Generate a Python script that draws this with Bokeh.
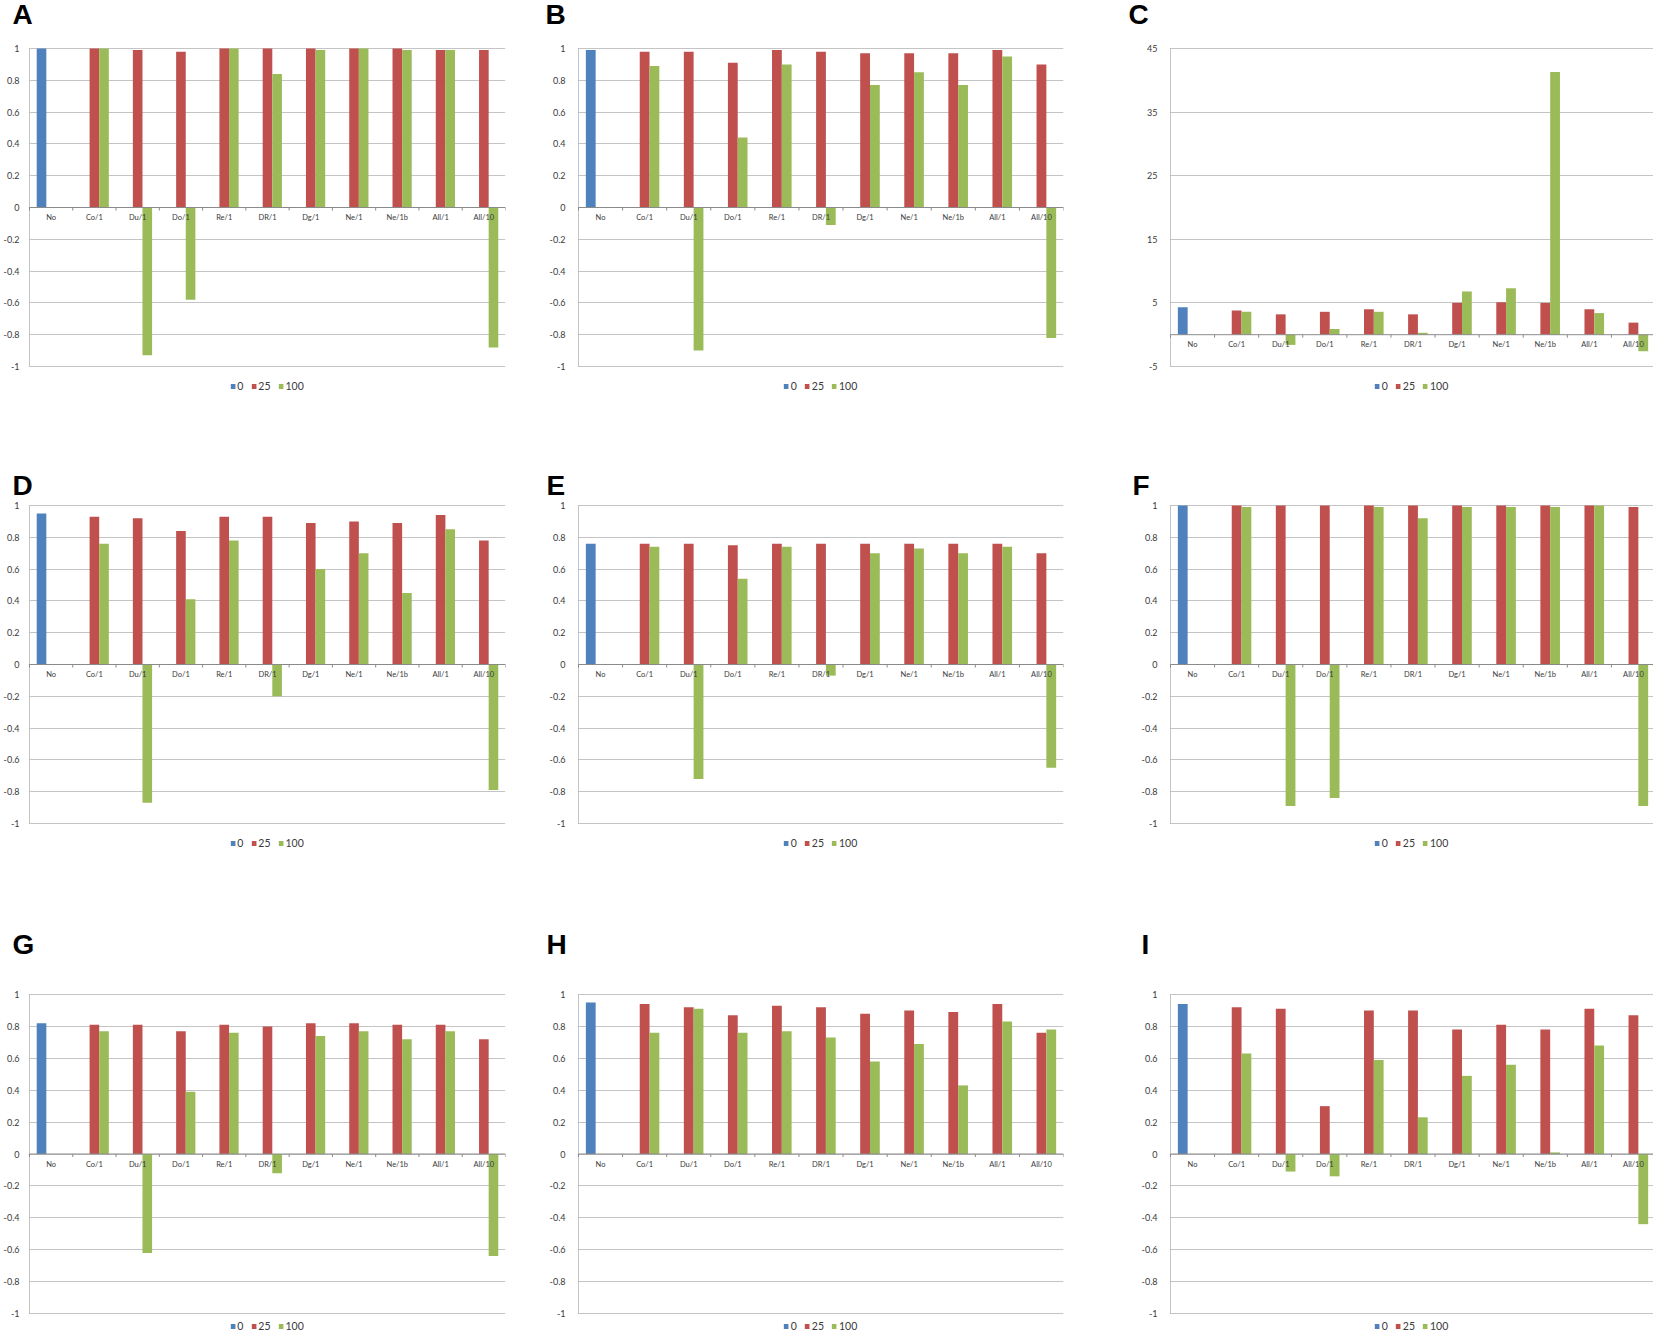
from bokeh.plotting import figure
from bokeh.layouts import column, row
from bokeh.models import Range1d, FixedTicker, Label, LabelSet, ColumnDataSource, Legend, LegendItem
from bokeh.core.properties import value
from bokeh.embed import file_html
from bokeh.resources import INLINE

# ---------------- data ----------------
categories = ["No", "Co/1", "Du/1", "Do/1", "Re/1", "DR/1", "Dg/1", "Ne/1", "Ne/1b", "All/1", "All/10"]
series_names = ["0", "25", "100"]

unit_ticks = [-1, -0.8, -0.6, -0.4, -0.2, 0, 0.2, 0.4, 0.6, 0.8, 1]
unit_tick_labels = ["-1", "-0.8", "-0.6", "-0.4", "-0.2", "0", "0.2", "0.4", "0.6", "0.8", "1"]
c_ticks = [-5, 5, 15, 25, 35, 45]
c_tick_labels = ["-5", "5", "15", "25", "35", "45"]

A_0 = [1.00, None, None, None, None, None, None, None, None, None, None]
A_25 = [None, 1.00, 0.99, 0.98, 1.00, 1.00, 1.00, 1.00, 1.00, 0.99, 0.99]
A_100 = [None, 1.00, -0.93, -0.58, 1.00, 0.84, 0.99, 1.00, 0.99, 0.99, -0.88]

B_0 = [0.99, None, None, None, None, None, None, None, None, None, None]
B_25 = [None, 0.98, 0.98, 0.91, 0.99, 0.98, 0.97, 0.97, 0.97, 0.99, 0.90]
B_100 = [None, 0.89, -0.90, 0.44, 0.90, -0.11, 0.77, 0.85, 0.77, 0.95, -0.82]

C_0 = [4.3, None, None, None, None, None, None, None, None, None, None]
C_25 = [None, 3.8, 3.2, 3.6, 4.0, 3.2, 5.0, 5.1, 5.0, 4.0, 1.9]
C_100 = [None, 3.6, -1.6, 0.9, 3.6, 0.3, 6.8, 7.3, 41.3, 3.4, -2.6]

D_0 = [0.95, None, None, None, None, None, None, None, None, None, None]
D_25 = [None, 0.93, 0.92, 0.84, 0.93, 0.93, 0.89, 0.90, 0.89, 0.94, 0.78]
D_100 = [None, 0.76, -0.87, 0.41, 0.78, -0.20, 0.60, 0.70, 0.45, 0.85, -0.79]

E_0 = [0.76, None, None, None, None, None, None, None, None, None, None]
E_25 = [None, 0.76, 0.76, 0.75, 0.76, 0.76, 0.76, 0.76, 0.76, 0.76, 0.70]
E_100 = [None, 0.74, -0.72, 0.54, 0.74, -0.07, 0.70, 0.73, 0.70, 0.74, -0.65]

F_0 = [1.00, None, None, None, None, None, None, None, None, None, None]
F_25 = [None, 1.00, 1.00, 1.00, 1.00, 1.00, 1.00, 1.00, 1.00, 1.00, 0.99]
F_100 = [None, 0.99, -0.89, -0.84, 0.99, 0.92, 0.99, 0.99, 0.99, 1.00, -0.89]

G_0 = [0.82, None, None, None, None, None, None, None, None, None, None]
G_25 = [None, 0.81, 0.81, 0.77, 0.81, 0.80, 0.82, 0.82, 0.81, 0.81, 0.72]
G_100 = [None, 0.77, -0.62, 0.39, 0.76, -0.12, 0.74, 0.77, 0.72, 0.77, -0.64]

H_0 = [0.95, None, None, None, None, None, None, None, None, None, None]
H_25 = [None, 0.94, 0.92, 0.87, 0.93, 0.92, 0.88, 0.90, 0.89, 0.94, 0.76]
H_100 = [None, 0.76, 0.91, 0.76, 0.77, 0.73, 0.58, 0.69, 0.43, 0.83, 0.78]

I_0 = [0.94, None, None, None, None, None, None, None, None, None, None]
I_25 = [None, 0.92, 0.91, 0.30, 0.90, 0.90, 0.78, 0.81, 0.78, 0.91, 0.87]
I_100 = [None, 0.63, -0.11, -0.14, 0.59, 0.23, 0.49, 0.56, 0.01, 0.68, -0.44]

panels = [
    ("A", [A_0, A_25, A_100], unit_ticks, unit_tick_labels),
    ("B", [B_0, B_25, B_100], unit_ticks, unit_tick_labels),
    ("C", [C_0, C_25, C_100], c_ticks, c_tick_labels),
    ("D", [D_0, D_25, D_100], unit_ticks, unit_tick_labels),
    ("E", [E_0, E_25, E_100], unit_ticks, unit_tick_labels),
    ("F", [F_0, F_25, F_100], unit_ticks, unit_tick_labels),
    ("G", [G_0, G_25, G_100], unit_ticks, unit_tick_labels),
    ("H", [H_0, H_25, H_100], unit_ticks, unit_tick_labels),
    ("I", [I_0, I_25, I_100], unit_ticks, unit_tick_labels),
]

# ---------------- style / layout ----------------
COLORS = ["#4F81BD", "#C0504D", "#9BBB59"]
BAR_W = 1 / 4.5
GRID = "#c4c4c4"
AXIS0 = "#8a8a8a"
TXT = "#3a3a3a"
FONT = "Lato"

PAGE_W = 1653
COL_W = [543, 579, 531]
COL_BL = [22, 34, 47]
COL_BR = [38, 59, 0]
COL_STANDOFF = [3, 6, 6]
COL_PW = [482, 485, 483]           # plot-area widths (px)
CAT_PX = [482 / 11, 485 / 11, 485 / 11]   # px per category
LETTER_X = [[12, 545, 1128], [12, 546, 1132], [12, 546, 1141]]   # px from page left

ROW_LH = [42, 29, 60]              # letter strip heights
ROW_LC = [14, 14.5, 16]            # letter centre from strip top
TOPPAD = 6                         # px above the top gridline
ROW_FH = [318, 318, 319]           # plot-area heights
ROW_BOT = [104, 105, 19]           # px below the bottom gridline
ROW_LEG_M = [78, 79, 0]            # legend margin from figure bottom


def letter_strip(r, letters):
    h = ROW_LH[r]
    s = figure(width=PAGE_W, height=h, x_range=Range1d(0, PAGE_W), y_range=Range1d(h, 0),
               output_backend="svg", toolbar_location=None,
               min_border_left=0, min_border_right=0, min_border_top=0, min_border_bottom=0)
    s.axis.visible = False
    s.grid.visible = False
    s.outline_line_color = None
    for c, letter in enumerate(letters):
        s.add_layout(Label(x=LETTER_X[r][c], y=ROW_LC[r], text=letter,
                           text_font="Liberation Sans", text_font_size="28px", text_font_style="bold",
                           text_color="black", text_align="left", text_baseline="middle"))
    return s


def make_panel(idx, series, ticks, labels):
    r, c = divmod(idx, 3)
    y0, y1 = ticks[0], ticks[-1]
    xpx = 1 / CAT_PX[c]
    xend = COL_PW[c] * xpx
    ypx = (y1 - y0) / ROW_FH[r]

    p = figure(width=COL_W[c], height=TOPPAD + ROW_FH[r] + ROW_BOT[r],
               x_range=Range1d(-1 * xpx, xend),
               y_range=Range1d(y0 - ROW_BOT[r] * ypx, y1 + TOPPAD * ypx),
               output_backend="svg", toolbar_location=None,
               min_border_left=COL_BL[c], min_border_right=COL_BR[c],
               min_border_top=0, min_border_bottom=0)
    p.outline_line_color = None
    p.background_fill_color = "white"
    p.border_fill_color = "white"

    p.xaxis.visible = False
    p.xgrid.visible = False
    p.yaxis.ticker = FixedTicker(ticks=ticks)
    p.yaxis.major_label_overrides = {t: l for t, l in zip(ticks, labels)}
    p.yaxis.axis_line_color = None
    p.yaxis.major_tick_line_color = None
    p.yaxis.minor_tick_line_color = None
    p.yaxis.major_label_text_font = FONT
    p.yaxis.major_label_text_font_size = "9px"
    p.yaxis.major_label_text_color = TXT
    p.yaxis.major_label_standoff = COL_STANDOFF[c]
    p.ygrid.ticker = FixedTicker(ticks=ticks)
    p.ygrid.grid_line_color = GRID

    # value-axis line (only over the value span)
    p.segment(x0=[0], x1=[0], y0=[y0], y1=[y1], line_color=GRID, line_width=1)

    rends = []
    for k, vals in enumerate(series):
        off = (k - 1) * BAR_W
        xs = [i + 0.5 + off for i, v in enumerate(vals) if v is not None]
        tops = [v for v in vals if v is not None]
        rends.append(p.vbar(x=xs, top=tops, bottom=0, width=BAR_W,
                            fill_color=COLORS[k], line_color=None))

    # category axis at zero
    p.segment(x0=[0], x1=[xend], y0=[0], y1=[0], line_color=AXIS0, line_width=1)
    bx = list(range(len(categories) + 1))
    p.segment(x0=bx, x1=bx, y0=[0] * len(bx), y1=[-3 * ypx] * len(bx),
              line_color=AXIS0, line_width=1)
    cat_src = ColumnDataSource(dict(x=[i + 0.5 for i in range(len(categories))],
                                    y=[-10 * ypx] * len(categories), text=categories))
    p.add_layout(LabelSet(x="x", y="y", text="text", source=cat_src,
                          text_font=value(FONT), text_font_size=value("7.5px"),
                          text_align="center", text_baseline="middle", text_color=TXT))

    legend = Legend(items=[LegendItem(label=n, renderers=[rr]) for n, rr in zip(series_names, rends)],
                    location="bottom_center", orientation="horizontal",
                    margin=ROW_LEG_M[r], padding=2, spacing=7,
                    glyph_width=6, glyph_height=6, label_standoff=2, label_height=10, label_width=0,
                    label_text_font=FONT, label_text_font_size="10.5px", label_text_color=TXT,
                    border_line_color=None, background_fill_alpha=0)
    p.add_layout(legend)
    return p


figs = [make_panel(i, pn[1], pn[2], pn[3]) for i, pn in enumerate(panels)]
letters = [pn[0] for pn in panels]
layout = column(
    letter_strip(0, letters[0:3]), row(*figs[0:3]),
    letter_strip(1, letters[3:6]), row(*figs[3:6]),
    letter_strip(2, letters[6:9]), row(*figs[6:9]),
)

open("out.html", "w").write(file_html(layout, INLINE))
